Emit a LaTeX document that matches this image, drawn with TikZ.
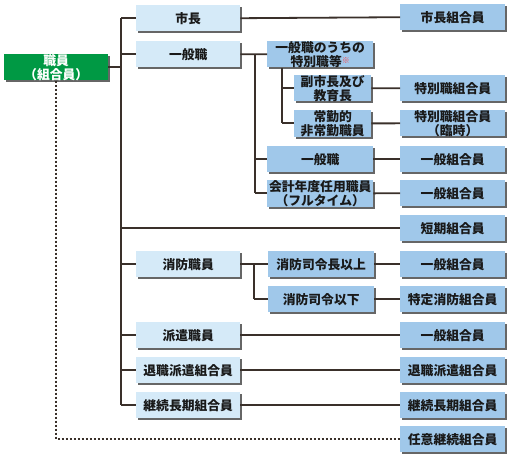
\documentclass[tikz,border=0pt]{standalone}
\usepackage{fontspec}
\setmainfont{Noto Sans CJK JP}
\usetikzlibrary{shadows}
\definecolor{lb}{HTML}{D5EAF8}
\definecolor{mb}{HTML}{A0C8EA}
\definecolor{gr}{HTML}{009944}
\definecolor{ln}{HTML}{3A302A}
\begin{document}
\begin{tikzpicture}[x=1pt,y=-1pt,
 bx/.style={anchor=north west, minimum height=26pt, inner sep=0pt, align=center,
   font=\bfseries\fontsize{12.8}{14}\selectfont, text=black!90,
   drop shadow={shadow xshift=2pt, shadow yshift=-2pt, fill=black, opacity=0.6}},
 lbox/.style={bx, fill=lb, minimum width=104pt},
 rbox/.style={bx, fill=mb, minimum width=105pt},
 mbox/.style={bx, fill=mb, minimum width=106pt},
 sbox/.style={bx, fill=mb, minimum width=77pt},
 conn/.style={draw=ln, line width=1.8pt},
 dotconn/.style={conn, line width=1.6pt, dash pattern=on 2pt off 2pt}]
\useasboundingbox (0,0) rectangle (519,459);

% root
\node[bx, fill=gr, text=white, minimum width=104pt] (root) at (4,54) {職員\\（組合員）};

% left column
\node[lbox] (shicho) at (136,5) {市長};
\node[lbox] (ippan) at (136,41) {一般職};
\node[lbox] (shobo) at (136,251) {消防職員};
\node[lbox] (haken) at (136,322) {派遣職員};
\node[lbox] (taishoku) at (136,357) {退職派遣組合員};
\node[lbox] (keizoku) at (136,392) {継続長期組合員};

% middle column
\node[mbox] (tokubetsu) at (267,41) {一般職のうちの\\特別職等{\color{red!75}\fontsize{8}{8}\selectfont\raisebox{3pt}{※}}};
\node[sbox] (fuku) at (294,75) {副市長及び\\教育長};
\node[sbox] (joukin) at (294,110) {常勤的\\非常勤職員};
\node[mbox] (ippan2) at (267,146) {一般職};
\node[mbox] (kaikei) at (267,180) {会計年度任用職員\\（フルタイム）};
\node[mbox] (shirei1) at (268,251) {消防司令長以上};
\node[mbox] (shirei2) at (268,286) {消防司令以下};

% right column
\node[rbox] (r1) at (400,4) {市長組合員};
\node[rbox] (r2) at (400,75) {特別職組合員};
\node[rbox] (r3) at (400,110) {特別職組合員\\（臨時）};
\node[rbox] (r4) at (400,146) {一般組合員};
\node[rbox] (r5) at (400,180) {一般組合員};
\node[rbox] (r6) at (400,215) {短期組合員};
\node[rbox] (r7) at (400,251) {一般組合員};
\node[rbox] (r8) at (400,286) {特定消防組合員};
\node[rbox] (r9) at (400,322) {一般組合員};
\node[rbox] (r10) at (400,357) {退職派遣組合員};
\node[rbox] (r11) at (400,392) {継続長期組合員};
\node[rbox] (r12) at (400,426) {任意継続組合員};

% connectors
\coordinate (sp) at (121,0);
\coordinate (v1) at (255,0);
\coordinate (v2) at (282,0);
\coordinate (v3) at (254,0);

\draw[conn] (root.east) -- (root.east -| sp);
\draw[conn] (sp |- shicho.west) -- (sp |- keizoku.west);
\foreach \n in {shicho,ippan,shobo,haken,taishoku,keizoku}
  \draw[conn] (sp |- \n.west) -- (\n.west);
\draw[conn] (sp |- r6.west) -- (r6.west);

\draw[conn] (shicho.east) -- (r1.west);

\draw[conn] (ippan.east) -- (tokubetsu.west);
\draw[conn] (v1 |- ippan.east) -- (v1 |- kaikei.west);
\draw[conn] (v1 |- ippan2.west) -- (ippan2.west);
\draw[conn] (v1 |- kaikei.west) -- (kaikei.west);

\draw[conn] (v2 |- tokubetsu.south) -- (v2 |- joukin.west);
\draw[conn] (v2 |- fuku.west) -- (fuku.west);
\draw[conn] (v2 |- joukin.west) -- (joukin.west);

\draw[conn] (fuku.east) -- (r2.west);
\draw[conn] (joukin.east) -- (r3.west);
\draw[conn] (ippan2.east) -- (r4.west);
\draw[conn] (kaikei.east) -- (r5.west);

\draw[conn] (shobo.east) -- (shirei1.west);
\draw[conn] (v3 |- shobo.east) -- (v3 |- shirei2.west);
\draw[conn] (v3 |- shirei2.west) -- (shirei2.west);
\draw[conn] (shirei1.east) -- (r7.west);
\draw[conn] (shirei2.east) -- (r8.west);

\draw[conn] (haken.east) -- (r9.west);
\draw[conn] (taishoku.east) -- (r10.west);
\draw[conn] (keizoku.east) -- (r11.west);

\draw[dotconn] (root.south) |- (r12.west);
\end{tikzpicture}
\end{document}
